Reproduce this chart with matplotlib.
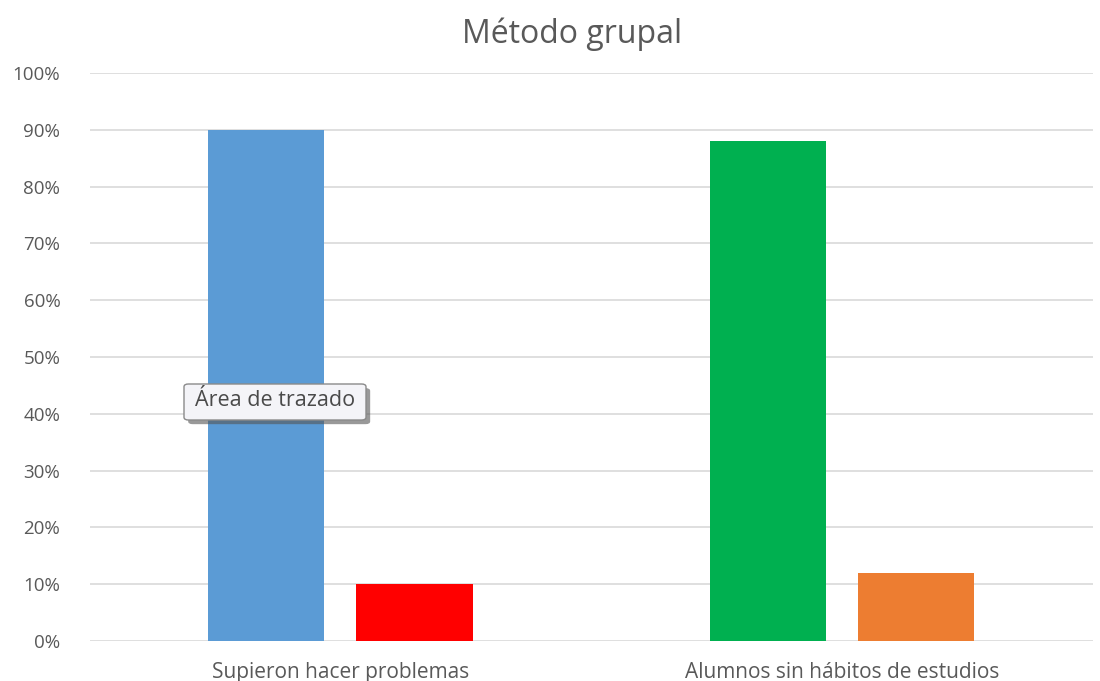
import matplotlib.pyplot as plt
import matplotlib.patheffects as pe
from matplotlib.patches import FancyBboxPatch
from matplotlib.ticker import PercentFormatter
import numpy as np

# data
categories = ["Supieron hacer problemas", "Alumnos sin hábitos de estudios"]
first_bar = [90, 88]     # blue / green
second_bar = [10, 12]    # red / orange
first_colors = ["#5B9BD5", "#00B050"]
second_colors = ["#FF0000", "#ED7D31"]
yticks = list(range(0, 101, 10))

plt.rcParams['font.family'] = ['Open Sans', 'DejaVu Sans']
text_grey = "#595959"

fig = plt.figure(figsize=(11, 6.81), dpi=100)
ax = fig.add_axes([0.0814, 0.0587, 0.912, 0.834])

x = np.arange(len(categories))
width = 0.232
offset = 0.148
ax.bar(x - offset, first_bar, width, color=first_colors, zorder=3)
ax.bar(x + offset, second_bar, width, color=second_colors, zorder=3)

ax.set_xlim(-0.5, len(categories) - 0.5)
ax.set_ylim(0, 100)
ax.set_yticks(yticks)
ax.yaxis.set_major_formatter(PercentFormatter(decimals=0))
ax.set_xticks(x)
ax.set_xticklabels(categories)
ax.tick_params(axis='both', length=0, colors=text_grey)
ax.tick_params(axis='y', pad=21, labelsize=13.5)
ax.tick_params(axis='x', pad=15, labelsize=15)
ax.grid(axis='y', color="#D9D9D9", linewidth=1.2, zorder=0)
for s in ax.spines.values():
    s.set_visible(False)

fig.suptitle("Método grupal", x=0.52, y=0.975, fontsize=23, color=text_grey)

# tooltip "Área de trazado" (pixel position of the popup in the screenshot)
W, H = 1100, 681
bx, by, bw, bh = 184, 384, 182, 36
box = FancyBboxPatch((bx / W, 1 - (by + bh) / H), bw / W, bh / H,
                     boxstyle="round,pad=0,rounding_size=0.004",
                     transform=fig.transFigure, facecolor="#F4F4F8",
                     edgecolor="#8A8A8A", linewidth=1.0, zorder=10,
                     path_effects=[pe.SimplePatchShadow(offset=(3, -3), shadow_rgbFace="#555555", alpha=0.6),
                                   pe.Normal()])
fig.patches.append(box)
fig.text((bx + bw / 2) / W, 1 - (by + bh / 2 - 1) / H, "Área de trazado",
         ha="center", va="center", fontsize=15.5, color="#4A4A4A", zorder=11)

fig.savefig("out.png", dpi=100)
